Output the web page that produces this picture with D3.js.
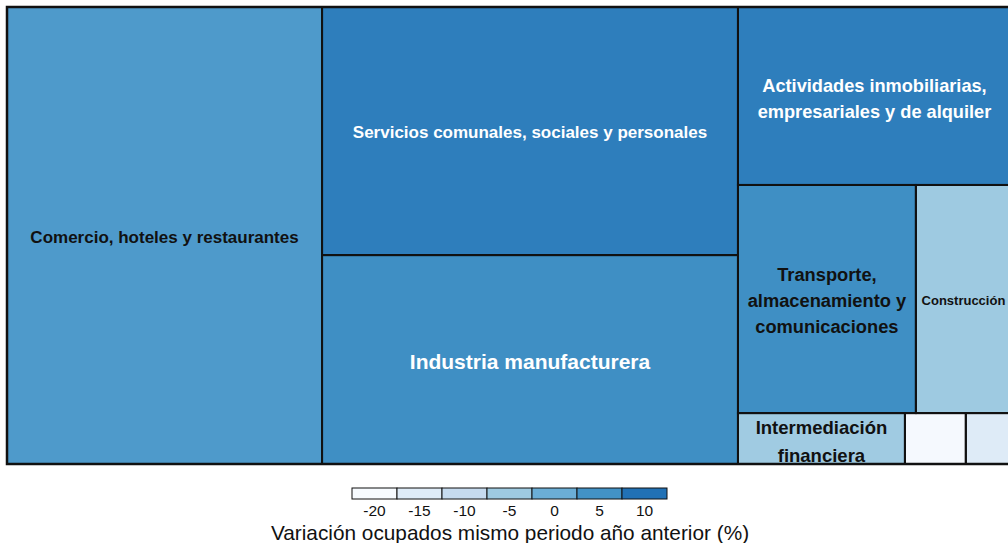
<!DOCTYPE html>
<html lang="es">
<head>
<meta charset="utf-8">
<title>Treemap ocupados por rama</title>
<script src="https://d3js.org/d3.v7.min.js"></script>
<style>
  body { margin: 0; background: #fff; }
  svg { display: block; font-family: "Liberation Sans", Arial, sans-serif; }
</style>
</head>
<body>
<script>
// data
var sectores = [
  "Comercio, hoteles y restaurantes",
  "Servicios comunales, sociales y personales",
  "Industria manufacturera",
  "Actividades inmobiliarias, empresariales y de alquiler",
  "Transporte, almacenamiento y comunicaciones",
  "Construcción",
  "Intermediación financiera",
  "Electricidad, gas y agua",
  "Explotación de minas y canteras"
];
var ocupados = [1440, 1032, 869, 486, 406, 217, 85, 31, 23];
var variacion = [3.5, 8, 5.5, 8, 5.5, -5, -5.3, -19.5, -15];

var legendTicks = [-20, -15, -10, -5, 0, 5, 10];
var blues = ["#f7fbff", "#deebf7", "#c6dbef", "#9ecae1", "#6baed6", "#4292c6", "#2171b5"];

// label look per sector (lines, font size, colour)
var etiquetas = {
  0: {lines: ["Comercio, hoteles y restaurantes"], size: 17, color: "#111", dy: 2},
  1: {lines: ["Servicios comunales, sociales y personales"], size: 17, color: "#fff", dy: 1},
  2: {lines: ["Industria manufacturera"], size: 21, color: "#fff", dy: 2},
  3: {lines: ["Actividades inmobiliarias,", "empresariales y de alquiler"], size: 18.2, color: "#fff", lh: 26, dy: 2.5},
  4: {lines: ["Transporte,", "almacenamiento y", "comunicaciones"], size: 18.3, color: "#111", lh: 26, dy: 2},
  5: {lines: ["Construcción"], size: 13, color: "#111", dy: 1},
  6: {lines: ["Intermediación", "financiera"], size: 18.5, color: "#111", lh: 28, dy: 2.5}
};

var width = 1008, height = 543;
var margin = {left: 7, top: 7};
var tmW = 1004, tmH = 457;

var svg = d3.select("body").append("svg")
  .attr("width", width)
  .attr("height", height);

var color = d3.scaleLinear().domain(legendTicks).range(blues).clamp(true);

function hoja(i) {
  return {idx: i, name: sectores[i], value: ocupados[i], v: variacion[i]};
}
var arbol = {children: [
  hoja(0),
  {children: [hoja(1), hoja(2)]},
  {children: [hoja(3), {children: [hoja(4), hoja(5)]}, {children: [hoja(6), hoja(7), hoja(8)]}]}
]};

var root = d3.hierarchy(arbol).sum(function(d){ return d.value || 0; });
d3.treemap().tile(d3.treemapSliceDice).size([tmW, tmH])(root);

var g = svg.append("g").attr("transform", "translate(" + margin.left + "," + margin.top + ")");

var cells = g.selectAll("g.cell")
  .data(root.leaves())
  .enter().append("g")
  .attr("class", "cell");

cells.append("rect")
  .attr("x", function(d){ return d.x0; })
  .attr("y", function(d){ return d.y0; })
  .attr("width", function(d){ return d.x1 - d.x0; })
  .attr("height", function(d){ return d.y1 - d.y0; })
  .attr("fill", function(d){ return color(d.data.v); });

cells.each(function(d) {
  var e = etiquetas[d.data.idx];
  if (!e) return;
  var cx = (d.x0 + d.x1) / 2, cy = (d.y0 + d.y1) / 2 + (e.dy || 0);
  var lh = e.lh || e.size * 1.2;
  var n = e.lines.length;
  var t = d3.select(this).append("text")
    .attr("text-anchor", "middle")
    .attr("font-weight", "bold")
    .attr("font-size", e.size)
    .attr("fill", e.color);
  e.lines.forEach(function(l, k) {
    t.append("tspan")
      .attr("x", cx)
      .attr("y", cy + (k - (n - 1) / 2) * lh)
      .attr("dy", "0.35em")
      .text(l);
  });
});

// borders on top of the labels
g.selectAll("rect.border")
  .data(root.leaves())
  .enter().append("rect")
  .attr("class", "border")
  .attr("x", function(d){ return d.x0; })
  .attr("y", function(d){ return d.y0; })
  .attr("width", function(d){ return d.x1 - d.x0; })
  .attr("height", function(d){ return d.y1 - d.y0; })
  .attr("fill", "none")
  .attr("stroke", "#111")
  .attr("stroke-width", 2);

g.append("rect")
  .attr("x", 0).attr("y", 0)
  .attr("width", tmW).attr("height", tmH)
  .attr("fill", "none")
  .attr("stroke", "#111")
  .attr("stroke-width", 2.5);

// legend
var lx = d3.scaleBand().domain(legendTicks).range([352, 667]);
var leg = svg.append("g");
leg.selectAll("rect")
  .data(legendTicks)
  .enter().append("rect")
  .attr("x", function(d){ return lx(d); })
  .attr("y", 488)
  .attr("width", lx.bandwidth())
  .attr("height", 11)
  .attr("fill", function(d){ return color(d); })
  .attr("stroke", "#111")
  .attr("stroke-width", 1);

leg.selectAll("text.tick")
  .data(legendTicks)
  .enter().append("text")
  .attr("class", "tick")
  .attr("x", function(d){ return lx(d) + lx.bandwidth() / 2; })
  .attr("y", 516)
  .attr("text-anchor", "middle")
  .attr("font-size", 15.5)
  .attr("fill", "#111")
  .text(function(d){ return d; });

svg.append("text")
  .attr("x", 510)
  .attr("y", 540)
  .attr("text-anchor", "middle")
  .attr("font-size", 20.8)
  .attr("fill", "#111")
  .text("Variación ocupados mismo periodo año anterior (%)");
</script>
</body>
</html>
